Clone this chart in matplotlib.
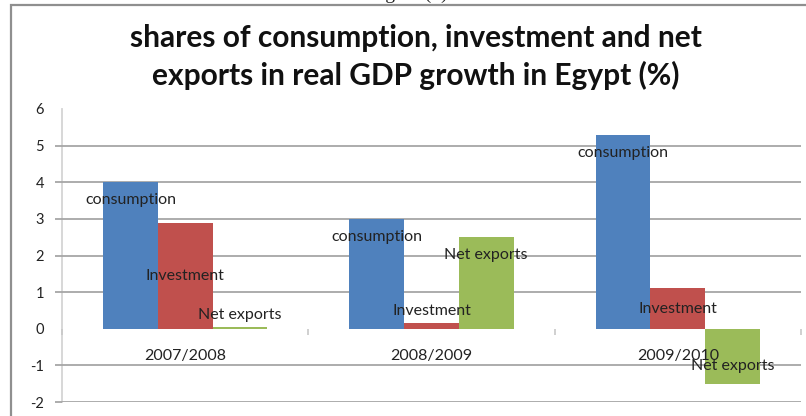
import matplotlib
matplotlib.use("Agg")
import matplotlib.pyplot as plt
from matplotlib.patches import Rectangle
import numpy as np

# Data
years = ["2007/2008", "2008/2009", "2009/2010"]
series_names = ["consumption", "Investment", "Net exports"]
consumption = [4.0, 3.0, 5.3]
investment = [2.9, 0.15, 1.1]
net_exports = [0.06, 2.5, -1.5]
y_ticks = [-2, -1, 0, 1, 2, 3, 4, 5, 6]

# Where each data label sits relative to its bar
label_modes = [
    ["inside", "inside", "inside"],
    ["center", "outside", "center"],
    ["outside", "inside", "inside"],
]

colors = ["#4F81BD", "#C0504D", "#9BBB59"]
W, H, DPI = 806, 416, 100
FONT = ["Lato", "DejaVu Sans"]

fig = plt.figure(figsize=(W / DPI, H / DPI), dpi=DPI)
fig.patch.set_facecolor("white")

# Chart border (runs past the right and bottom edges)
fig.add_artist(Rectangle((11 / W, -0.2), 1.2, 1 - 5 / H + 0.2,
                         transform=fig.transFigure, fill=False,
                         edgecolor="#8f8f8f", linewidth=1.6))

# Caption cut off at the top edge
fig.text(0.506, 1.0 + 1.5 / H, "Figure (x)", ha="center", va="baseline",
         fontsize=14, family="Liberation Serif", color="#222222")

fig.text(0.516, 1 - 38 / H, "shares of consumption, investment and net",
         ha="center", va="center", fontsize=21.5, fontweight="bold",
         family=FONT, color="#111111")
fig.text(0.516, 1 - 75 / H, "exports in real GDP growth in Egypt (%)",
         ha="center", va="center", fontsize=21.5, fontweight="bold",
         family=FONT, color="#111111")

left, right = 62 / W, 801 / W
bottom, top = (H - 402) / H, (H - 109) / H
ax = fig.add_axes([left, bottom, right - left, top - bottom])

n = len(years)
bw = 1 / 4.5
centers = np.arange(n) + 0.5
all_vals = [consumption, investment, net_exports]
offsets = [-bw, 0, bw]

ax.set_xlim(0, n)
ax.set_ylim(-2, 6)

for vals, off, col, name, modes in zip(all_vals, offsets, colors, series_names, label_modes):
    xs = centers + off
    ax.bar(xs, vals, width=bw, color=col, zorder=2, linewidth=0)
    for x, v, m in zip(xs, vals, modes):
        sgn = 1 if v >= 0 else -1
        if m == "inside":
            y, dy = v, -18 * sgn
        elif m == "outside":
            y, dy = v, 12 * sgn
        else:
            y, dy = v / 2, 0
        ax.annotate(name, (x, y), xytext=(0, dy * 0.72), textcoords="offset points",
                    ha="center", va="center", fontsize=11.5, family=FONT,
                    color="#222222", zorder=5)

# Y axis with gridlines behind the bars
ax.set_axisbelow(True)
ax.set_yticks(y_ticks)
ax.set_yticklabels([str(t) for t in y_ticks], fontsize=10.5, family=FONT, color="#222222")
ax.yaxis.grid(True, color="#a6a6a6", linewidth=1.3)
ax.tick_params(axis="y", length=5, color="#a6a6a6", width=1.3, pad=8)
for t, val in zip(ax.yaxis.get_major_ticks(), y_ticks):
    if val in (0, 6):
        t.gridline.set_visible(False)
        t.tick1line.set_visible(False)

for s in ["top", "right"]:
    ax.spines[s].set_visible(False)
ax.spines["left"].set_color("#d4d4d4")
ax.spines["left"].set_linewidth(1.3)
ax.spines["left"].set_zorder(0.5)

# Category axis sits on zero, its labels drawn over the bars
ax.spines["bottom"].set_position(("data", 0))
ax.spines["bottom"].set_visible(False)
ax.set_xticks(centers)
ax.set_xticklabels(years, fontsize=11.5, family=FONT, color="#222222")
ax.tick_params(axis="x", which="major", length=0, pad=14.5)
ax.set_xticks(np.arange(n + 1), minor=True)
ax.tick_params(axis="x", which="minor", length=4, color="#c8c8c8", width=1.2)
ax.xaxis.set_zorder(4)

fig.savefig("out.png", dpi=DPI, facecolor="white")
